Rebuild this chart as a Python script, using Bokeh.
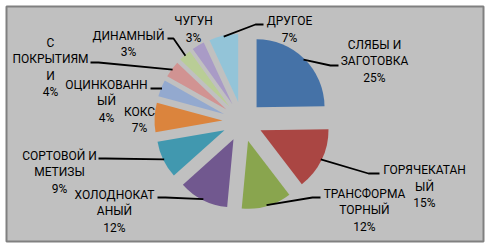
import math
from bokeh.plotting import figure
from bokeh.models import Range1d, ColumnDataSource
from bokeh.core.properties import value
from bokeh.embed import file_html
from bokeh.resources import INLINE

# ---- data ----
categories = ["СЛЯБЫ И ЗАГОТОВКА", "ГОРЯЧЕКАТАНЫЙ", "ТРАНСФОРМАТОРНЫЙ",
              "ХОЛОДНОКАТАНЫЙ", "СОРТОВОЙ И МЕТИЗЫ", "КОКС", "ОЦИНКОВАННЫЙ",
              "С ПОКРЫТИЯМИ", "ДИНАМНЫЙ", "ЧУГУН", "ДРУГОЕ"]
values = [25, 15, 12, 12, 9, 7, 4, 4, 3, 3, 7]
# label text as wrapped in the chart
label_lines = [["СЛЯБЫ И", "ЗАГОТОВКА"], ["ГОРЯЧЕКАТАН", "ЫЙ"],
               ["ТРАНСФОРМА", "ТОРНЫЙ"], ["ХОЛОДНОКАТ", "АНЫЙ"],
               ["СОРТОВОЙ И", "МЕТИЗЫ"], ["КОКС"], ["ОЦИНКОВАНН", "ЫЙ"],
               ["С", "ПОКРЫТИЯМ", "И"], ["ДИНАМНЫЙ"], ["ЧУГУН"], ["ДРУГОЕ"]]

# ---- style ----
colors = ["#4572A7", "#AA4643", "#89A54E", "#71588F", "#4198AF", "#DB843D",
          "#93A9CF", "#D19392", "#B9CD96", "#A99BC6", "#93C4D8"]

# ---- layout (screen pixels, y down) ----
W, H = 487, 244
center = (242, 121)
radius = 68
explode = 20
# label block: center x, first line center y
label_pos = [(374, 44), (424, 169.5), (364, 193), (114, 194), (59, 155),
             (139, 111), (106, 84), (50, 42), (128, 35), (193, 20.5), (289, 20.5)]
line_h = 16.5
# leader: elbow and end points (None = no leader)
leaders = [((330, 65), (338, 65)), ((368, 173), (379, 173)),
           ((312, 197), (320, 197)), ((165, 197), (157, 197)),
           ((105, 158), (98, 158)), None, ((157, 88), (150, 88)),
           ((98, 62), (90, 62)), ((173, 38), (167, 38)), None,
           ((255, 24), (263, 24))]

def Y(sy):
    return H - sy

p = figure(width=W, height=H, output_backend="svg", toolbar_location=None,
           x_range=Range1d(6, 483), y_range=Range1d(Y(241), Y(6)),
           min_border_left=6, min_border_right=4, min_border_top=6,
           min_border_bottom=3)
p.axis.visible = False
p.grid.visible = False
p.background_fill_color = "#C0C0C0"
p.border_fill_color = "white"
p.outline_line_color = "#808080"
p.outline_line_width = 2

total = float(sum(values))
cx, cy = center[0], Y(center[1])
xs, ys, starts, ends, mids = [], [], [], [], []
cum = 0.0
for v in values:
    a0 = cum / total
    cum += v
    a1 = cum / total
    s = math.pi / 2 - 2 * math.pi * a1
    e = math.pi / 2 - 2 * math.pi * a0
    m = (s + e) / 2
    xs.append(cx + explode * math.cos(m))
    ys.append(cy + explode * math.sin(m))
    starts.append(s)
    ends.append(e)
    mids.append(m)

src = ColumnDataSource(dict(x=xs, y=ys, start=starts, end=ends, color=colors))
p.wedge(x="x", y="y", radius=radius, start_angle="start", end_angle="end",
        fill_color="color", line_color=None, source=src)

# leader lines
lx, ly = [], []
for i, ld in enumerate(leaders):
    if ld is None:
        continue
    sx = xs[i] + (radius - 1) * math.cos(mids[i])
    sy = ys[i] + (radius - 1) * math.sin(mids[i])
    lx.append([sx, ld[0][0], ld[1][0]])
    ly.append([sy, Y(ld[0][1]), Y(ld[1][1])])
p.multi_line(lx, ly, line_color="black", line_width=1.8)

# labels
tx, ty, tt = [], [], []
for i, lines in enumerate(label_lines):
    allines = lines + ["%d%%" % values[i]]
    bx, by = label_pos[i]
    for k, t in enumerate(allines):
        tx.append(bx)
        ty.append(Y(by + k * line_h))
        tt.append(t)
p.text(x=tx, y=ty, text=tt, text_align="center", text_baseline="middle",
       text_font=value("Roboto"), text_font_size="12px",
       text_color="black")

open("out.html", "w").write(file_html(p, INLINE))
